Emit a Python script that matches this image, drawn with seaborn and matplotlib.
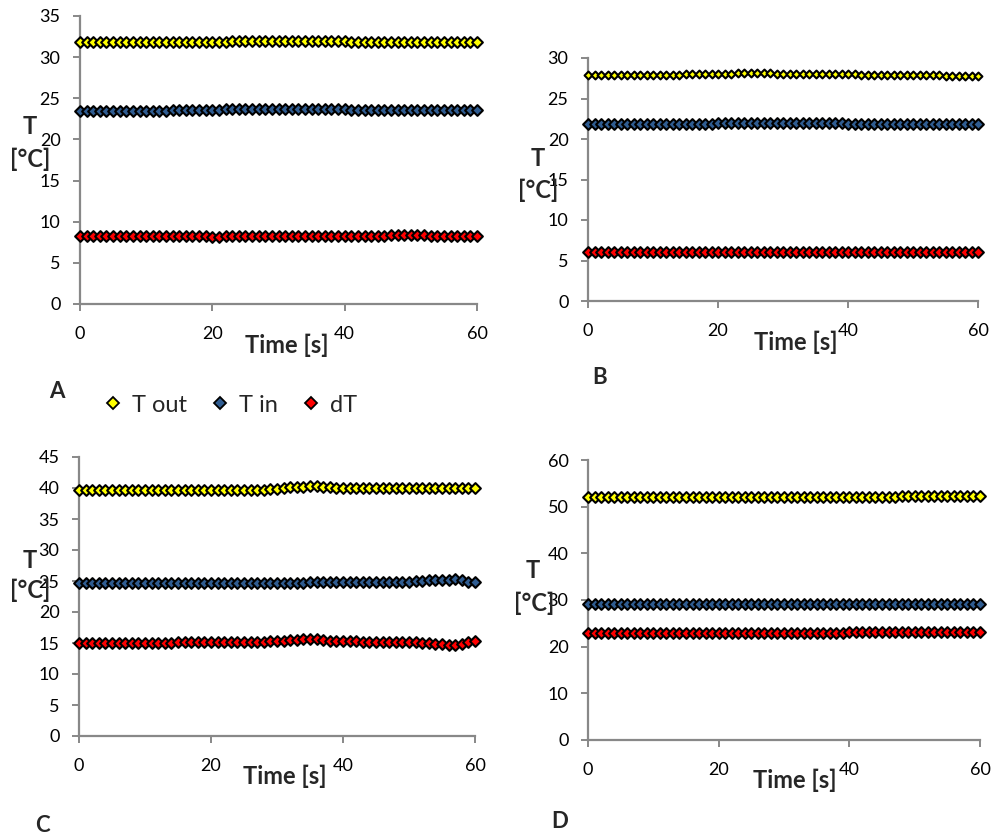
import matplotlib
matplotlib.use("Agg")
import matplotlib.pyplot as plt
from matplotlib.lines import Line2D
import pandas as pd
import seaborn as sns

# sample times [s]
TIME = [0, 1, 2, 3, 4, 5, 6, 7, 8, 9,
        10, 11, 12, 13, 14, 15, 16, 17, 18, 19,
        20, 21, 22, 23, 24, 25, 26, 27, 28, 29,
        30, 31, 32, 33, 34, 35, 36, 37, 38, 39,
        40, 41, 42, 43, 44, 45, 46, 47, 48, 49,
        50, 51, 52, 53, 54, 55, 56, 57, 58, 59,
        60]

SERIES = ["T out", "T in", "dT"]
COLORS = ["#FFFF00", "#2F5C91", "#FF0000"]

# panel A
A_TOUT = [31.8, 31.8, 31.8, 31.8, 31.8, 31.8, 31.8, 31.8, 31.8, 31.8,
          31.8, 31.8, 31.8, 31.8, 31.8, 31.8, 31.9, 31.9, 31.9, 31.9,
          31.9, 31.9, 31.9, 32.0, 32.0, 32.0, 32.0, 32.0, 32.0, 32.0,
          32.0, 32.0, 32.0, 32.0, 32.0, 32.0, 32.0, 32.0, 32.0, 32.0,
          32.0, 31.9, 31.9, 31.9, 31.9, 31.9, 31.9, 31.9, 31.9, 31.9,
          31.9, 31.9, 31.9, 31.8, 31.8, 31.8, 31.8, 31.8, 31.8, 31.8,
          31.8]
A_TIN = [23.5, 23.5, 23.5, 23.5, 23.5, 23.5, 23.5, 23.5, 23.5, 23.5,
         23.5, 23.5, 23.5, 23.5, 23.6, 23.6, 23.6, 23.6, 23.6, 23.6,
         23.6, 23.6, 23.7, 23.7, 23.7, 23.7, 23.7, 23.7, 23.7, 23.7,
         23.7, 23.7, 23.7, 23.7, 23.7, 23.7, 23.7, 23.7, 23.7, 23.7,
         23.7, 23.6, 23.6, 23.6, 23.6, 23.6, 23.6, 23.6, 23.6, 23.6,
         23.6, 23.6, 23.6, 23.6, 23.6, 23.6, 23.6, 23.6, 23.6, 23.6,
         23.6]
A_DT = [8.3, 8.3, 8.3, 8.3, 8.3, 8.3, 8.3, 8.3, 8.3, 8.3,
        8.3, 8.3, 8.3, 8.3, 8.3, 8.3, 8.3, 8.3, 8.3, 8.3,
        8.2, 8.2, 8.3, 8.3, 8.3, 8.3, 8.3, 8.3, 8.3, 8.3,
        8.3, 8.3, 8.3, 8.3, 8.3, 8.3, 8.3, 8.3, 8.3, 8.3,
        8.3, 8.3, 8.3, 8.3, 8.3, 8.3, 8.3, 8.4, 8.4, 8.4,
        8.4, 8.4, 8.4, 8.3, 8.3, 8.3, 8.3, 8.3, 8.3, 8.3,
        8.3]

# panel B
B_TOUT = [27.9, 27.9, 27.9, 27.9, 27.9, 27.9, 27.9, 27.9, 27.9, 27.9,
          27.9, 27.9, 27.9, 27.9, 27.9, 28.0, 28.0, 28.0, 28.0, 28.0,
          28.0, 28.0, 28.0, 28.1, 28.1, 28.1, 28.1, 28.1, 28.1, 28.0,
          28.0, 28.0, 28.0, 28.0, 28.0, 28.0, 28.0, 28.0, 28.0, 28.0,
          28.0, 28.0, 27.9, 27.9, 27.9, 27.9, 27.9, 27.9, 27.9, 27.9,
          27.9, 27.9, 27.9, 27.9, 27.9, 27.8, 27.8, 27.8, 27.8, 27.8,
          27.8]
B_TIN = [21.9, 21.9, 21.9, 21.9, 21.9, 21.9, 21.9, 21.9, 21.9, 21.9,
         21.9, 21.9, 21.9, 21.9, 21.9, 21.9, 21.9, 21.9, 21.9, 21.9,
         22.0, 22.0, 22.0, 22.0, 22.0, 22.0, 22.0, 22.0, 22.0, 22.0,
         22.0, 22.0, 22.0, 22.0, 22.0, 22.0, 22.0, 22.0, 22.0, 22.0,
         21.9, 21.9, 21.9, 21.9, 21.9, 21.9, 21.9, 21.9, 21.9, 21.9,
         21.9, 21.9, 21.9, 21.9, 21.9, 21.9, 21.9, 21.9, 21.9, 21.9,
         21.9]
B_DT = [6.0, 6.0, 6.0, 6.0, 6.0, 6.0, 6.0, 6.0, 6.0, 6.0,
        6.0, 6.0, 6.0, 6.0, 6.0, 6.0, 6.0, 6.0, 6.0, 6.0,
        6.1, 6.1, 6.1, 6.1, 6.1, 6.1, 6.1, 6.1, 6.1, 6.1,
        6.1, 6.1, 6.1, 6.1, 6.1, 6.1, 6.1, 6.1, 6.1, 6.1,
        6.1, 6.1, 6.1, 6.1, 6.1, 6.0, 6.0, 6.0, 6.0, 6.0,
        6.0, 6.0, 6.0, 6.0, 6.0, 6.0, 6.0, 6.0, 6.0, 6.0,
        6.0]

# panel C
C_TOUT = [39.6, 39.6, 39.6, 39.6, 39.6, 39.6, 39.6, 39.6, 39.6, 39.6,
          39.6, 39.6, 39.6, 39.6, 39.6, 39.6, 39.7, 39.7, 39.7, 39.7,
          39.7, 39.7, 39.7, 39.7, 39.7, 39.7, 39.7, 39.7, 39.7, 39.8,
          39.9, 40.0, 40.1, 40.1, 40.2, 40.3, 40.3, 40.2, 40.1, 40.0,
          40.0, 40.0, 40.0, 40.0, 40.0, 40.0, 40.0, 40.0, 40.0, 40.0,
          40.0, 40.0, 40.0, 40.0, 40.0, 40.0, 40.0, 40.0, 40.0, 40.0,
          40.0]
C_TIN = [24.6, 24.6, 24.6, 24.6, 24.6, 24.6, 24.6, 24.6, 24.6, 24.6,
         24.6, 24.6, 24.6, 24.6, 24.6, 24.6, 24.6, 24.6, 24.6, 24.6,
         24.6, 24.6, 24.6, 24.6, 24.6, 24.7, 24.7, 24.7, 24.7, 24.7,
         24.7, 24.7, 24.7, 24.7, 24.7, 24.8, 24.8, 24.8, 24.8, 24.8,
         24.8, 24.8, 24.8, 24.8, 24.8, 24.8, 24.9, 24.9, 24.9, 24.9,
         24.9, 25.0, 25.0, 25.1, 25.1, 25.2, 25.2, 25.3, 25.1, 24.8,
         24.8]
C_DT = [15.0, 15.0, 15.0, 15.0, 15.0, 15.0, 15.0, 15.0, 15.0, 15.0,
        15.0, 15.0, 15.0, 15.0, 15.0, 15.1, 15.1, 15.1, 15.1, 15.1,
        15.1, 15.1, 15.1, 15.1, 15.1, 15.1, 15.1, 15.1, 15.2, 15.3,
        15.4, 15.4, 15.5, 15.5, 15.6, 15.6, 15.6, 15.5, 15.4, 15.3,
        15.3, 15.3, 15.3, 15.2, 15.2, 15.2, 15.2, 15.2, 15.2, 15.2,
        15.1, 15.1, 15.0, 15.0, 14.9, 14.8, 14.7, 14.6, 14.8, 15.1,
        15.3]

# panel D
D_TOUT = [52.0, 52.0, 52.0, 52.0, 52.0, 52.0, 52.0, 52.0, 52.0, 52.0,
          52.0, 52.0, 52.0, 52.0, 52.0, 52.0, 52.0, 52.0, 52.0, 52.0,
          52.0, 52.0, 52.0, 52.0, 52.0, 52.0, 52.0, 52.0, 52.0, 52.0,
          52.1, 52.1, 52.1, 52.1, 52.1, 52.1, 52.1, 52.1, 52.1, 52.1,
          52.1, 52.1, 52.1, 52.1, 52.1, 52.1, 52.1, 52.1, 52.2, 52.2,
          52.2, 52.2, 52.2, 52.2, 52.2, 52.2, 52.3, 52.3, 52.3, 52.3,
          52.3]
D_TIN = [29.1, 29.1, 29.1, 29.1, 29.1, 29.1, 29.1, 29.1, 29.1, 29.1,
         29.1, 29.1, 29.1, 29.1, 29.1, 29.1, 29.1, 29.1, 29.1, 29.1,
         29.1, 29.1, 29.1, 29.1, 29.1, 29.2, 29.2, 29.2, 29.2, 29.2,
         29.2, 29.2, 29.2, 29.2, 29.2, 29.2, 29.2, 29.2, 29.2, 29.2,
         29.1, 29.1, 29.1, 29.1, 29.1, 29.1, 29.1, 29.1, 29.1, 29.1,
         29.1, 29.1, 29.1, 29.1, 29.1, 29.1, 29.1, 29.1, 29.1, 29.1,
         29.1]
D_DT = [23.0, 23.0, 23.0, 23.0, 23.0, 23.0, 23.0, 23.0, 23.0, 23.0,
        23.0, 23.0, 23.0, 23.0, 23.0, 23.0, 23.0, 23.0, 23.0, 23.0,
        23.0, 23.0, 23.0, 23.0, 23.0, 23.0, 23.0, 23.0, 23.0, 23.0,
        23.0, 23.0, 23.0, 23.0, 23.0, 23.0, 23.0, 23.0, 23.0, 23.0,
        23.1, 23.1, 23.1, 23.1, 23.1, 23.1, 23.1, 23.1, 23.1, 23.1,
        23.1, 23.1, 23.1, 23.1, 23.2, 23.2, 23.2, 23.2, 23.2, 23.2,
        23.2]

PANEL_DATA = {
    "A": (A_TOUT, A_TIN, A_DT),
    "B": (B_TOUT, B_TIN, B_DT),
    "C": (C_TOUT, C_TIN, C_DT),
    "D": (D_TOUT, D_TIN, D_DT),
}
Y_MAX = {"A": 35, "B": 30, "C": 45, "D": 60}
Y_STEP = {"A": 5, "B": 5, "C": 5, "D": 10}
X_TICKS = [0, 20, 40, 60]

W, H = 996, 840

# layout in pixels: axes (left, top, right, bottom), letter, "T", "[°C]", "Time [s]"
LAYOUT = {
    "A": dict(ax=(80, 16, 477, 304), letter=(57, 392), t=(30, 126), c=(30, 159), time=(287, 345)),
    "B": dict(ax=(588, 58, 978, 301), letter=(600, 378), t=(538, 158), c=(538, 190), time=(796, 342)),
    "C": dict(ax=(79, 457, 475, 736), letter=(42, 826), t=(30, 560), c=(30, 590), time=(285, 776)),
    "D": dict(ax=(588, 460, 980, 740), letter=(560, 822), t=(533, 570), c=(534, 603), time=(795, 780)),
}


def fx(x):
    return x / W


def fy(y):
    return 1 - y / H


sns.set_style("white")
plt.rcParams["font.family"] = ["Lato", "DejaVu Sans"]

fig = plt.figure(figsize=(W / 100, H / 100), dpi=100)
spine_col = "#888888"

for name, (tout, tin, dt) in PANEL_DATA.items():
    lay = LAYOUT[name]
    l, t, r, b = lay["ax"]
    ax = fig.add_axes([fx(l), fy(b), fx(r) - fx(l), fy(t) - fy(b)])

    df = pd.DataFrame({"time": TIME * 3,
                       "temp": tout + tin + dt,
                       "series": [SERIES[0]] * len(tout) + [SERIES[1]] * len(tin) + [SERIES[2]] * len(dt)})
    for s_name, col in zip(SERIES, COLORS):
        size = 16 if (name == "B" and s_name == "T out") else 30
        sns.scatterplot(data=df[df["series"] == s_name], x="time", y="temp",
                        color=col, marker="D", s=size, edgecolor="black",
                        linewidth=1.5, legend=False, ax=ax, clip_on=False, zorder=3)

    ax.set_xlim(0, 60)
    ax.set_ylim(0, Y_MAX[name])
    ax.set_xticks(X_TICKS)
    ax.set_yticks(list(range(0, Y_MAX[name] + 1, Y_STEP[name])))
    ax.set_xlabel("")
    ax.set_ylabel("")
    for side in ["top", "right"]:
        ax.spines[side].set_visible(False)
    for side in ["left", "bottom"]:
        ax.spines[side].set_color(spine_col)
        ax.spines[side].set_linewidth(1.6)
    ax.tick_params(axis="both", direction="out", length=5, width=1.4, color=spine_col,
                   labelsize=13, labelcolor="black")
    ax.tick_params(axis="y", pad=9)
    ax.tick_params(axis="x", pad=11)
    ax.tick_params(left=True, bottom=True)

    fig.text(fx(lay["letter"][0]), fy(lay["letter"][1]), name, fontsize=16, fontweight="bold",
             ha="center", va="center")
    fig.text(fx(lay["t"][0]), fy(lay["t"][1]), "T", fontsize=17, fontweight="bold",
             ha="center", va="center")
    fig.text(fx(lay["c"][0]), fy(lay["c"][1]), "[°C]", fontsize=17, fontweight="bold",
             ha="center", va="center")
    fig.text(fx(lay["time"][0]), fy(lay["time"][1]), "Time [s]", fontsize=17, fontweight="bold",
             ha="center", va="center")

handles = [Line2D([], [], linestyle="none", marker="D", markersize=6, markerfacecolor=c,
                  markeredgecolor="black", markeredgewidth=1.3) for c in COLORS]
fig.legend(handles, SERIES, loc="center left", bbox_to_anchor=(fx(104), fy(405)), ncol=3,
           frameon=False, fontsize=17, handlelength=0.8, handletextpad=0.4, columnspacing=1.0,
           borderaxespad=0, borderpad=0)

fig.savefig("out.png", dpi=100)
